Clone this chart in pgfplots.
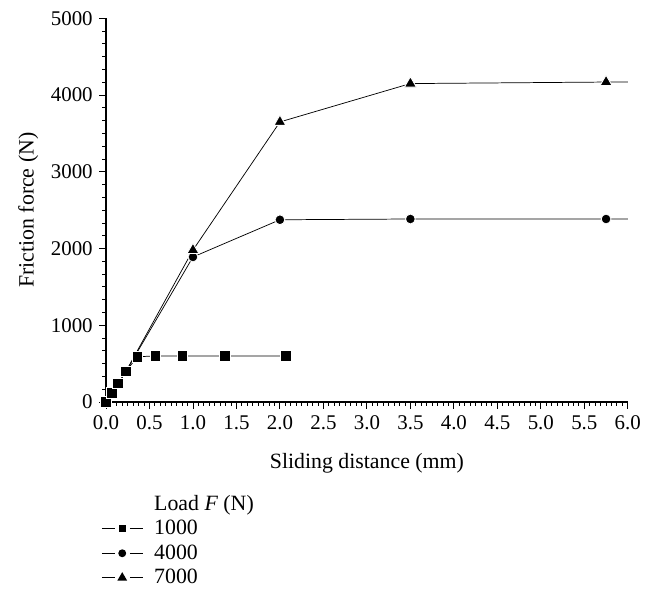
\documentclass[border=0pt]{standalone}
\usepackage{fontspec}
\setmainfont{Liberation Serif}
\usepackage{pgfplots}
\pgfplotsset{compat=1.18}

\begin{document}
\begin{tikzpicture}
\begin{axis}[
  scale only axis, width=287pt, height=211pt,
  xmin=0, xmax=6, ymin=0, ymax=5000,
  axis x line*=bottom, axis y line*=left,
  xtick={0,0.5,...,6}, ytick={0,1000,...,5000},
  minor x tick num=7, minor y tick num=5,
  tick align=outside, major tick length=3.8pt, minor tick length=2pt,
  every tick/.style={black, line width=0.5pt},
  axis line style={black, line width=0.6pt},
  clip=false,
  /pgf/number format/assume math mode=true,
  xticklabel style={/pgf/number format/fixed, /pgf/number format/fixed zerofill, /pgf/number format/precision=1},
  yticklabel style={/pgf/number format/1000 sep={}},
  tick label style={font=\fontsize{11.5}{13}\selectfont},
  label style={font=\fontsize{12}{14}\selectfont},
  xlabel style={yshift=-6pt},
  xlabel={Sliding distance (mm)}, ylabel={Friction force (N)},
  every plot/.append style={black, line width=0.7pt},
  legend cell align=left,
  legend style={draw=none, fill=none, inner sep=0pt, at={(axis description cs:-0.01,-0.232)}, anchor=north west,
    font=\fontsize{12}{14}\selectfont, row sep=0pt,
    /tikz/every odd column/.append style={column sep=4pt}},
  legend image code/.code={
    \draw[mark=none] (0pt,0pt) -- (7pt,0pt) (15.5pt,0pt) -- (22.5pt,0pt);
    \draw[only marks] plot coordinates {(11.25pt,0pt)};},
]
\addlegendimage{empty legend}
\addlegendentry{Load \textit{F} (N)}

\addplot[mark=*, mark size=2.7pt, mark options={fill=black, draw=white, line width=0.5pt}, mark indices={5,6,7,8}, forget plot]
  coordinates {(0,0)(0.07,120)(0.14,240)(0.23,400)(1.0,1890)(2.0,2375)(3.5,2385)(5.75,2385)(6.0,2385)};
\addplot[mark=triangle*, mark size=3.8pt, mark options={fill=black, draw=white, line width=0.5pt}, mark indices={5,6,7,8}, forget plot]
  coordinates {(0,0)(0.07,120)(0.14,240)(0.23,400)(1.0,1980)(2.0,3650)(3.5,4150)(5.75,4170)(6.0,4170)};
\addplot[mark=square*, mark size=2.9pt, mark options={fill=black, draw=white, line width=0.5pt}, forget plot]
  coordinates {(0,0)(0.07,120)(0.14,240)(0.23,400)(0.36,590)(0.57,600)(0.88,600)(1.37,600)(2.07,600)};

\addlegendimage{black, line width=0.7pt, mark=square*, mark size=1.7pt, mark options={fill=black, draw=none}}
\addlegendentry{1000}
\addlegendimage{black, line width=0.7pt, mark=*, mark size=1.8pt, mark options={fill=black, draw=none}}
\addlegendentry{4000}
\addlegendimage{black, line width=0.7pt, mark=triangle*, mark size=2.4pt, mark options={fill=black, draw=none}}
\addlegendentry{7000}
\end{axis}
\pgfresetboundingbox
\path[use as bounding box] (-58.3pt,-107.25pt) rectangle (301.4pt,221.1pt);
\end{tikzpicture}
\end{document}
